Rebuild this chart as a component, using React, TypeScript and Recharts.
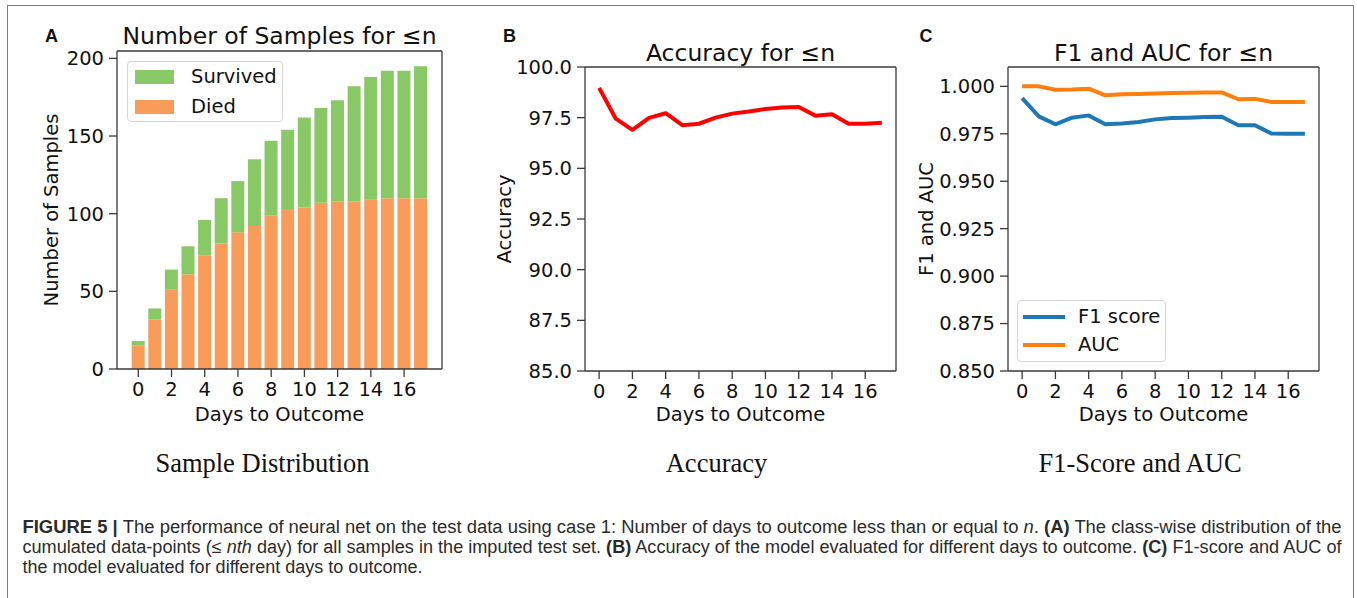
import React from 'react';
import { BarChart, Bar, LineChart, Line, XAxis, YAxis, Legend } from 'recharts';

// ---------- data ----------
const days = [0, 1, 2, 3, 4, 5, 6, 7, 8, 9, 10, 11, 12, 13, 14, 15, 16, 17];
const diedCounts = [15, 32, 51, 61, 73, 81, 88, 92, 99, 103, 104, 107, 108, 108, 109, 110, 110, 110];
const survivedCounts = [3, 7, 13, 18, 23, 29, 33, 43, 48, 51, 58, 61, 65, 74, 79, 82, 82, 85];
const accuracyValues = [98.97, 97.45, 96.9, 97.49, 97.72, 97.13, 97.2, 97.5, 97.7, 97.8, 97.93, 98.0, 98.03, 97.6, 97.67, 97.2, 97.2, 97.25];
const f1Values = [0.9938, 0.9842, 0.98, 0.9835, 0.9847, 0.98, 0.9804, 0.9812, 0.9826, 0.9833, 0.9835, 0.9838, 0.984, 0.9795, 0.9795, 0.9751, 0.975, 0.975];
const aucValues = [1.0, 1.0, 0.9982, 0.9984, 0.9988, 0.9953, 0.9958, 0.996, 0.9962, 0.9965, 0.9966, 0.9968, 0.9968, 0.9932, 0.9934, 0.9918, 0.9918, 0.9918];

const dayTicks = [0, 2, 4, 6, 8, 10, 12, 14, 16];
const countTicks = [0, 50, 100, 150, 200];
const accuracyTicks = [85, 87.5, 90, 92.5, 95, 97.5, 100];
const scoreTicks = [0.85, 0.875, 0.9, 0.925, 0.95, 0.975, 1.0];

const barSeries = [
  { key: 'survived', name: 'Survived', color: '#89c965' },
  { key: 'died', name: 'Died', color: '#f99c5a' },
];
const scoreSeries = [
  { key: 'f1', name: 'F1 score', color: '#1f77b4' },
  { key: 'auc', name: 'AUC', color: '#ff7f0e' },
];

const sampleData = days.map((d, i) => ({ day: d, died: diedCounts[i], survived: survivedCounts[i] }));
const accuracyData = days.map((d, i) => ({ day: d, acc: accuracyValues[i] }));
const scoreData = days.map((d, i) => ({ day: d, f1: f1Values[i], auc: aucValues[i] }));

// ---------- style ----------
const FONT = "'DejaVu Sans', sans-serif";
const TICK_SIZE = 19.5;
const AXIS = '#3a3a3a';
const tickStyle = { fill: '#111', fontSize: TICK_SIZE, fontFamily: FONT };
const axisLine = { stroke: AXIS, strokeWidth: 1.3 };

function SampleLegend() {
  return (
    <div
      style={{
        width: 156,
        height: 61,
        border: '1.3px solid #d6d6d6',
        borderRadius: 4,
        background: 'rgba(255,255,255,0.85)',
        boxSizing: 'border-box',
        position: 'relative',
        fontFamily: FONT,
        fontSize: TICK_SIZE,
        color: '#111',
      }}
    >
      {barSeries.map((s, i) => (
        <div key={s.key} style={{ position: 'absolute', left: 7, top: 7 + i * 30, height: 15, display: 'flex', alignItems: 'center' }}>
          <div style={{ width: 39, height: 14, background: s.color }} />
          <span style={{ marginLeft: 17, lineHeight: '15px', whiteSpace: 'nowrap' }}>{s.name}</span>
        </div>
      ))}
    </div>
  );
}

function ScoreLegend() {
  return (
    <div
      style={{
        width: 149,
        height: 62,
        border: '1.3px solid #d6d6d6',
        borderRadius: 4,
        background: 'rgba(255,255,255,0.85)',
        boxSizing: 'border-box',
        position: 'relative',
        fontFamily: FONT,
        fontSize: TICK_SIZE,
        color: '#111',
      }}
    >
      {scoreSeries.map((s, i) => (
        <div key={s.key} style={{ position: 'absolute', left: 5, top: 8 + i * 28, height: 16, display: 'flex', alignItems: 'center' }}>
          <div style={{ width: 42, height: 4, background: s.color }} />
          <span style={{ marginLeft: 13, lineHeight: '16px', whiteSpace: 'nowrap' }}>{s.name}</span>
        </div>
      ))}
    </div>
  );
}

function PanelA() {
  // container at (0,0) 460x440; plot area x 117..442, y 51..369
  return (
    <div style={{ position: 'absolute', left: 0, top: 0 }}>
      <BarChart
        width={460}
        height={440}
        data={sampleData}
        margin={{ top: 51, right: 18, bottom: 41, left: 57 }}
        barCategoryGap="10%"
      >
        <XAxis
          dataKey="day"
          type="category"
          interval={1}
          padding={{ left: 13, right: 13 }}
          height={30}
          tick={tickStyle}
          tickSize={8}
          tickMargin={5}
          axisLine={axisLine}
          tickLine={axisLine}
        />
        <XAxis xAxisId="top" dataKey="day" orientation="top" mirror tick={false} tickLine={false} axisLine={axisLine} />
        <YAxis
          type="number"
          domain={[0, 204.75]}
          ticks={countTicks}
          allowDataOverflow
          width={60}
          tick={tickStyle}
          tickSize={8}
          tickMargin={5}
          axisLine={axisLine}
          tickLine={axisLine}
        />
        <YAxis yAxisId="right" type="number" domain={[0, 1]} orientation="right" mirror tick={false} tickLine={false} axisLine={axisLine} />
        <Bar dataKey="died" name="Died" stackId="s" fill={barSeries[1].color} isAnimationActive={false} />
        <Bar dataKey="survived" name="Survived" stackId="s" fill={barSeries[0].color} isAnimationActive={false} />
        <Legend
          layout="horizontal"
          verticalAlign="middle"
          align="center"
          content={() => <SampleLegend />}
          wrapperStyle={{ left: 127, top: 61, width: 156, height: 61, bottom: 'auto', right: 'auto' }}
        />
      </BarChart>
    </div>
  );
}

function PanelB() {
  // container at (470,0) 440x440; plot area x 585..896 -> local 115..426 ; y 67..371
  return (
    <div style={{ position: 'absolute', left: 470, top: 0 }}>
      <LineChart width={440} height={440} data={accuracyData} margin={{ top: 67, right: 14, bottom: 39, left: 55 }}>
        <XAxis
          dataKey="day"
          type="number"
          domain={[-0.85, 17.85]}
          ticks={dayTicks}
          allowDataOverflow
          height={30}
          tick={tickStyle}
          tickSize={8}
          tickMargin={5}
          axisLine={axisLine}
          tickLine={axisLine}
        />
        <XAxis xAxisId="top" dataKey="day" type="number" domain={[-0.85, 17.85]} allowDataOverflow orientation="top" mirror tick={false} tickLine={false} axisLine={axisLine} />
        <YAxis
          type="number"
          domain={[85, 100]}
          ticks={accuracyTicks}
          allowDataOverflow
          tickFormatter={(v: number) => v.toFixed(1)}
          width={60}
          tick={tickStyle}
          tickSize={8}
          tickMargin={5}
          axisLine={axisLine}
          tickLine={axisLine}
        />
        <YAxis yAxisId="right" type="number" domain={[0, 1]} orientation="right" mirror tick={false} tickLine={false} axisLine={axisLine} />
        <Line dataKey="acc" stroke="#ff0000" strokeWidth={4} dot={false} strokeLinejoin="round" strokeLinecap="butt" isAnimationActive={false} />
      </LineChart>
    </div>
  );
}

function PanelC() {
  // container at (900,0) 440x440; plot area x 1008..1319 -> local 108..419 ; y 67..371
  return (
    <div style={{ position: 'absolute', left: 900, top: 0 }}>
      <LineChart width={440} height={440} data={scoreData} margin={{ top: 67, right: 21, bottom: 39, left: 38 }}>
        <XAxis
          dataKey="day"
          type="number"
          domain={[-0.85, 17.85]}
          ticks={dayTicks}
          allowDataOverflow
          height={30}
          tick={tickStyle}
          tickSize={8}
          tickMargin={5}
          axisLine={axisLine}
          tickLine={axisLine}
        />
        <XAxis xAxisId="top" dataKey="day" type="number" domain={[-0.85, 17.85]} allowDataOverflow orientation="top" mirror tick={false} tickLine={false} axisLine={axisLine} />
        <YAxis
          type="number"
          domain={[0.85, 1.0102]}
          ticks={scoreTicks}
          allowDataOverflow
          tickFormatter={(v: number) => v.toFixed(3)}
          width={70}
          tick={tickStyle}
          tickSize={8}
          tickMargin={5}
          axisLine={axisLine}
          tickLine={axisLine}
        />
        <YAxis yAxisId="right" type="number" domain={[0, 1]} orientation="right" mirror tick={false} tickLine={false} axisLine={axisLine} />
        {scoreSeries.map((s) => (
          <Line key={s.key} dataKey={s.key} name={s.name} stroke={s.color} strokeWidth={4} dot={false} strokeLinejoin="round" isAnimationActive={false} />
        ))}
        <Legend
          layout="horizontal"
          verticalAlign="middle"
          align="center"
          content={() => <ScoreLegend />}
          wrapperStyle={{ left: 117, top: 300, width: 149, height: 62, bottom: 'auto', right: 'auto' }}
        />
      </LineChart>
    </div>
  );
}

const TITLE = 23.5;
const SERIF = "'Liberation Serif', 'Times New Roman', serif";
const CAP = "'Liberation Sans', Arial, sans-serif";

function Texts() {
  return (
    <svg width={1357} height={598} style={{ position: 'absolute', left: 0, top: 0, pointerEvents: 'none' }}>
      {/* panel letters */}
      <g fontFamily="'Liberation Sans', Arial, sans-serif" fontWeight="bold" fontSize={18} fill="#111">
        <text x={51.5} y={42} textAnchor="middle">A</text>
        <text x={509.5} y={42} textAnchor="middle">B</text>
        <text x={926} y={42} textAnchor="middle">C</text>
      </g>
      {/* titles */}
      <g fontFamily={FONT} fontSize={TITLE} fill="#111" textAnchor="middle">
        <text x={279.5} y={44}>Number of Samples for ≤n</text>
        <text x={740.5} y={61}>Accuracy for ≤n</text>
        <text x={1163.5} y={61}>F1 and AUC for ≤n</text>
      </g>
      {/* axis labels */}
      <g fontFamily={FONT} fontSize={TICK_SIZE} fill="#111" textAnchor="middle">
        <text x={279.5} y={421}>Days to Outcome</text>
        <text x={740.5} y={421}>Days to Outcome</text>
        <text x={1163.5} y={421}>Days to Outcome</text>
        <text transform="translate(57.5,210) rotate(-90)">Number of Samples</text>
        <text transform="translate(511,219) rotate(-90)">Accuracy</text>
        <text transform="translate(933,219) rotate(-90)">F1 and AUC</text>
      </g>
      {/* sub captions */}
      <g fontFamily={SERIF} fontSize={26.5} fill="#111" textAnchor="middle">
        <text x={262.5} y={472}>Sample Distribution</text>
        <text x={716.5} y={472}>Accuracy</text>
        <text x={1140} y={472}>F1-Score and AUC</text>
      </g>
      {/* figure caption */}
      <g fontFamily={CAP} fontSize={18} fill="#2b2b2b">
        <text x={22.5} y={533} textLength={1319} lengthAdjust="spacingAndGlyphs">
          <tspan fontWeight="bold">FIGURE 5 | </tspan>
          <tspan>The performance of neural net on the test data using case 1: Number of days to outcome less than or equal to </tspan>
          <tspan fontStyle="italic">n</tspan>
          <tspan>. </tspan>
          <tspan fontWeight="bold">(A)</tspan>
          <tspan> The class-wise distribution of the</tspan>
        </text>
        <text x={22.5} y={553} textLength={1319} lengthAdjust="spacingAndGlyphs">
          <tspan>cumulated data-points (≤ </tspan>
          <tspan fontStyle="italic">nth</tspan>
          <tspan> day) for all samples in the imputed test set. </tspan>
          <tspan fontWeight="bold">(B)</tspan>
          <tspan> Accuracy of the model evaluated for different days to outcome. </tspan>
          <tspan fontWeight="bold">(C)</tspan>
          <tspan> F1-score and AUC of</tspan>
        </text>
        <text x={22.5} y={573}>the model evaluated for different days to outcome.</text>
      </g>
    </svg>
  );
}

export default function App() {
  return (
    <div style={{ position: 'absolute', left: 0, top: 0, width: 1357, height: 598, background: '#fff', overflow: 'hidden' }}>
      <div
        style={{
          position: 'absolute',
          left: 7,
          top: 5,
          width: 1347,
          height: 620,
          border: '1.5px solid #7a7a7a',
          boxSizing: 'border-box',
        }}
      />
      <PanelA />
      <PanelB />
      <PanelC />
      <Texts />
    </div>
  );
}
